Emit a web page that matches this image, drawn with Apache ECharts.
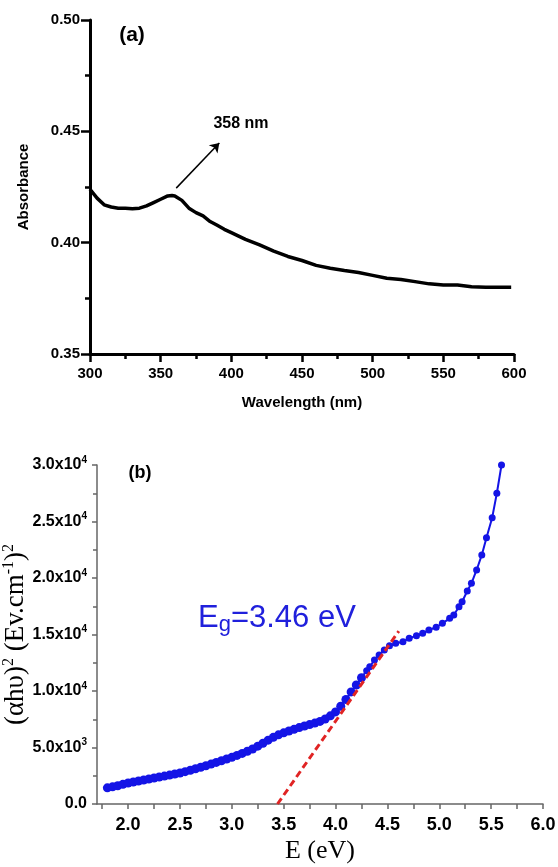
<!DOCTYPE html>
<html>
<head>
<meta charset="utf-8">
<script src="https://cdn.jsdelivr.net/npm/echarts@6/dist/echarts.min.js"></script>
<style>
  html, body { margin: 0; padding: 0; background: #fff; }
  #chart { width: 558px; height: 867px; }
</style>
</head>
<body>
<div id="chart"></div>
<script>
// (a) UV-vis absorbance
const wavelength = [300, 305, 310, 315, 320, 325, 330, 335, 340, 345, 350, 355, 358, 360, 365, 370, 375, 380, 385, 390, 395, 400,
  410, 420, 430, 440, 450, 460, 470, 480, 490, 500, 510, 520, 530, 540, 550, 560, 570, 580, 590, 598];
const absorbance = [0.424, 0.420, 0.417, 0.416, 0.4155, 0.4155, 0.4152, 0.4155, 0.4165, 0.418, 0.4195, 0.421, 0.4212, 0.421, 0.419,
  0.4155, 0.4135, 0.412, 0.4095, 0.4078, 0.406, 0.4045, 0.4015, 0.399, 0.3962, 0.3938, 0.392, 0.3898, 0.3885, 0.3875, 0.3866,
  0.3853, 0.384, 0.3835, 0.3825, 0.3815, 0.381, 0.381, 0.3802, 0.380, 0.380, 0.380];
const peakArrow = [[361, 0.4245], [391.5, 0.4448]];

// (b) Tauc plot
const energy = [1.80, 1.85, 1.90, 1.95, 2.00, 2.05, 2.10, 2.15, 2.20, 2.25, 2.30, 2.35, 2.40, 2.45, 2.50, 2.55, 2.60, 2.65,
  2.70, 2.75, 2.80, 2.85, 2.90, 2.95, 3.00, 3.05, 3.10, 3.15, 3.20, 3.25, 3.30, 3.35, 3.40, 3.45, 3.50, 3.55, 3.60, 3.65,
  3.70, 3.75, 3.80, 3.85, 3.90, 3.95, 4.00, 4.05, 4.10, 4.15, 4.20, 4.25, 4.30, 4.33, 4.375, 4.42, 4.47, 4.52, 4.58, 4.65,
  4.71, 4.78, 4.84, 4.90, 4.97, 5.03, 5.10, 5.14, 5.19, 5.22, 5.27, 5.31, 5.36, 5.41, 5.455, 5.51, 5.555, 5.60];
const tauc = [1430, 1520, 1620, 1740, 1860, 1950, 2040, 2120, 2210, 2300, 2390, 2470, 2560, 2650, 2740, 2860, 2990, 3120,
  3250, 3390, 3530, 3680, 3830, 3980, 4130, 4300, 4480, 4670, 4870, 5120, 5380, 5650, 5900, 6120, 6300, 6460, 6610, 6760,
  6900, 7030, 7160, 7310, 7520, 7800, 8150, 8650, 9250, 9920, 10530, 11170, 11800, 12150, 12740, 13190, 13630, 14010, 14220, 14360,
  14660, 14900, 15100, 15400, 15640, 15990, 16430, 16730, 17460, 17900, 18850, 19530, 20710, 22040, 23570, 25340, 27500, 30000];
const taucFit = [[3.44, 0], [4.61, 15300]];
const energyLabels = [2.0, 2.5, 3.0, 3.5, 4.0, 4.5, 5.0, 5.5, 6.0];
const energyTicks = [1.75, 2.0, 2.25, 2.5, 2.75, 3.0, 3.25, 3.5, 3.75, 4.0, 4.25, 4.5, 4.75, 5.0, 5.25, 5.5, 5.75, 6.0];

const sans = '"Liberation Sans", Arial, sans-serif';
const serif = '"Liberation Serif", "Times New Roman", serif';

const chart = echarts.init(document.getElementById('chart'));

const sci = (v) => {
  if (v === 0) return '{m|0.0}';
  const exp = Math.floor(Math.log10(v) + 1e-9);
  const mant = v / Math.pow(10, exp);
  return '{m|' + mant.toFixed(1) + 'x10}{s|' + exp + '}';
};

const option = {
  animation: false,
  backgroundColor: '#fff',
  grid: [
    { left: 90, top: 20, width: 424, height: 334, outerBoundsMode: 'none' },
    { left: 97, top: 465, width: 446, height: 339, outerBoundsMode: 'none' },
  ],
  xAxis: [
    {
      gridIndex: 0,
      type: 'value',
      min: 300,
      max: 600,
      interval: 50,
      name: 'Wavelength (nm)',
      nameLocation: 'middle',
      nameGap: 41,
      nameTextStyle: { fontFamily: sans, fontWeight: 'bold', fontSize: 15, color: '#000' },
      axisLine: { lineStyle: { color: '#000', width: 3 } },
      axisTick: { inside: false, length: 8, lineStyle: { color: '#000', width: 2.5 } },
      minorTick: { show: true, splitNumber: 2, length: 5, lineStyle: { color: '#000', width: 2.5 } },
      splitLine: { show: false },
      axisLabel: {
        margin: 12,
        fontFamily: sans,
        fontWeight: 'bold',
        fontSize: 15,
        color: '#000',
        showMinLabel: true,
        showMaxLabel: true,
      },
    },
    {
      gridIndex: 1,
      type: 'value',
      min: 1.7,
      max: 6.0,
      name: 'E (eV)',
      nameLocation: 'middle',
      nameGap: 34,
      nameTextStyle: { fontFamily: serif, fontSize: 26, color: '#000' },
      axisLine: { lineStyle: { color: '#666', width: 1.5 } },
      axisTick: { inside: false, length: 5, customValues: energyTicks, lineStyle: { color: '#666', width: 1.5 } },
      splitLine: { show: false },
      axisLabel: {
        margin: 12,
        customValues: energyLabels,
        formatter: (v) => v.toFixed(1),
        fontFamily: sans,
        fontWeight: 'bold',
        fontSize: 18,
        color: '#000',
      },
    },
  ],
  yAxis: [
    {
      gridIndex: 0,
      type: 'value',
      min: 0.35,
      max: 0.5,
      interval: 0.05,
      name: 'Absorbance',
      nameLocation: 'middle',
      nameRotate: 90,
      nameGap: 59,
      nameTextStyle: { fontFamily: sans, fontWeight: 'bold', fontSize: 15, color: '#000' },
      axisLine: { show: true, lineStyle: { color: '#000', width: 3 } },
      axisTick: { show: true, inside: false, length: 9, lineStyle: { color: '#000', width: 2.5 } },
      minorTick: { show: true, splitNumber: 2, length: 5, lineStyle: { color: '#000', width: 2.5 } },
      splitLine: { show: false },
      axisLabel: {
        margin: 10,
        formatter: (v) => v.toFixed(2),
        fontFamily: sans,
        fontWeight: 'bold',
        fontSize: 15,
        color: '#000',
      },
    },
    {
      gridIndex: 1,
      type: 'value',
      min: 0,
      max: 30000,
      interval: 5000,
      name: '(αhυ){s|2} (Ev.cm{s|-1}){s|2}',
      nameLocation: 'middle',
      nameRotate: 90,
      nameGap: 66,
      nameMoveOverlap: false,
      nameTextStyle: {
        fontFamily: serif,
        fontSize: 27,
        color: '#000',
        rich: {
          s: { fontFamily: serif, fontSize: 16, color: '#000', padding: [0, 0, 14, 0] },
        },
      },
      axisLine: { show: true, lineStyle: { color: '#666', width: 1.5 } },
      axisTick: { show: true, inside: false, length: 5, lineStyle: { color: '#666', width: 1.5 } },
      minorTick: { show: true, splitNumber: 2, length: 4, lineStyle: { color: '#666', width: 1.5 } },
      splitLine: { show: false },
      axisLabel: {
        margin: 10,
        formatter: sci,
        color: '#000',
        rich: {
          m: { fontFamily: sans, fontWeight: 'bold', fontSize: 16, color: '#000', lineHeight: 20 },
          s: { fontFamily: sans, fontWeight: 'bold', fontSize: 10, color: '#000', padding: [0, 0, 10, 0] },
        },
      },
    },
  ],
  series: [
    {
      type: 'line',
      xAxisIndex: 0,
      yAxisIndex: 0,
      data: wavelength.map((w, i) => [w, absorbance[i]]),
      showSymbol: false,
      lineStyle: { color: '#000', width: 3.5 },
      markLine: {
        silent: true,
        symbol: ['none', 'arrow'],
        symbolSize: 9,
        label: { show: false },
        lineStyle: { color: '#000', width: 1.5, type: 'solid' },
        data: [[{ coord: peakArrow[0] }, { coord: peakArrow[1] }]],
      },
    },
    {
      type: 'line',
      xAxisIndex: 1,
      yAxisIndex: 1,
      data: energy.map((e, i) => [e, tauc[i]]),
      symbol: 'circle',
      // densely sampled low-energy part reads as a thick band
      symbolSize: (val) => (val[0] < 4.3 ? 9 : 7),
      itemStyle: { color: '#1414e6' },
      lineStyle: { color: '#1414e6', width: 2 },
    },
    {
      type: 'line',
      xAxisIndex: 1,
      yAxisIndex: 1,
      data: taucFit,
      showSymbol: false,
      lineStyle: { color: '#e02424', width: 3, type: [7, 4] },
      z: 5,
    },
  ],
  graphic: [
    {
      type: 'text', x: 132, y: 35,
      style: { text: '(a)', fontFamily: sans, fontWeight: 'bold', fontSize: 21, fill: '#000', align: 'center', verticalAlign: 'middle' },
    },
    {
      type: 'text', x: 241, y: 124,
      style: { text: '358 nm', fontFamily: sans, fontWeight: 'bold', fontSize: 16, fill: '#000', align: 'center', verticalAlign: 'middle' },
    },
    {
      type: 'text', x: 140, y: 473,
      style: { text: '(b)', fontFamily: sans, fontWeight: 'bold', fontSize: 18, fill: '#000', align: 'center', verticalAlign: 'middle' },
    },
    {
      type: 'text', x: 198, y: 618,
      style: {
        text: '{e|E}{g|g}{e|=3.46 eV}',
        align: 'left',
        verticalAlign: 'middle',
        rich: {
          e: { fontFamily: sans, fontSize: 31, fill: '#2020dc', lineHeight: 36 },
          g: { fontFamily: sans, fontSize: 22, fill: '#2020dc', lineHeight: 22, padding: [14, 0, 0, 0] },
        },
      },
    },
  ],
};

chart.setOption(option);
</script>
</body>
</html>
